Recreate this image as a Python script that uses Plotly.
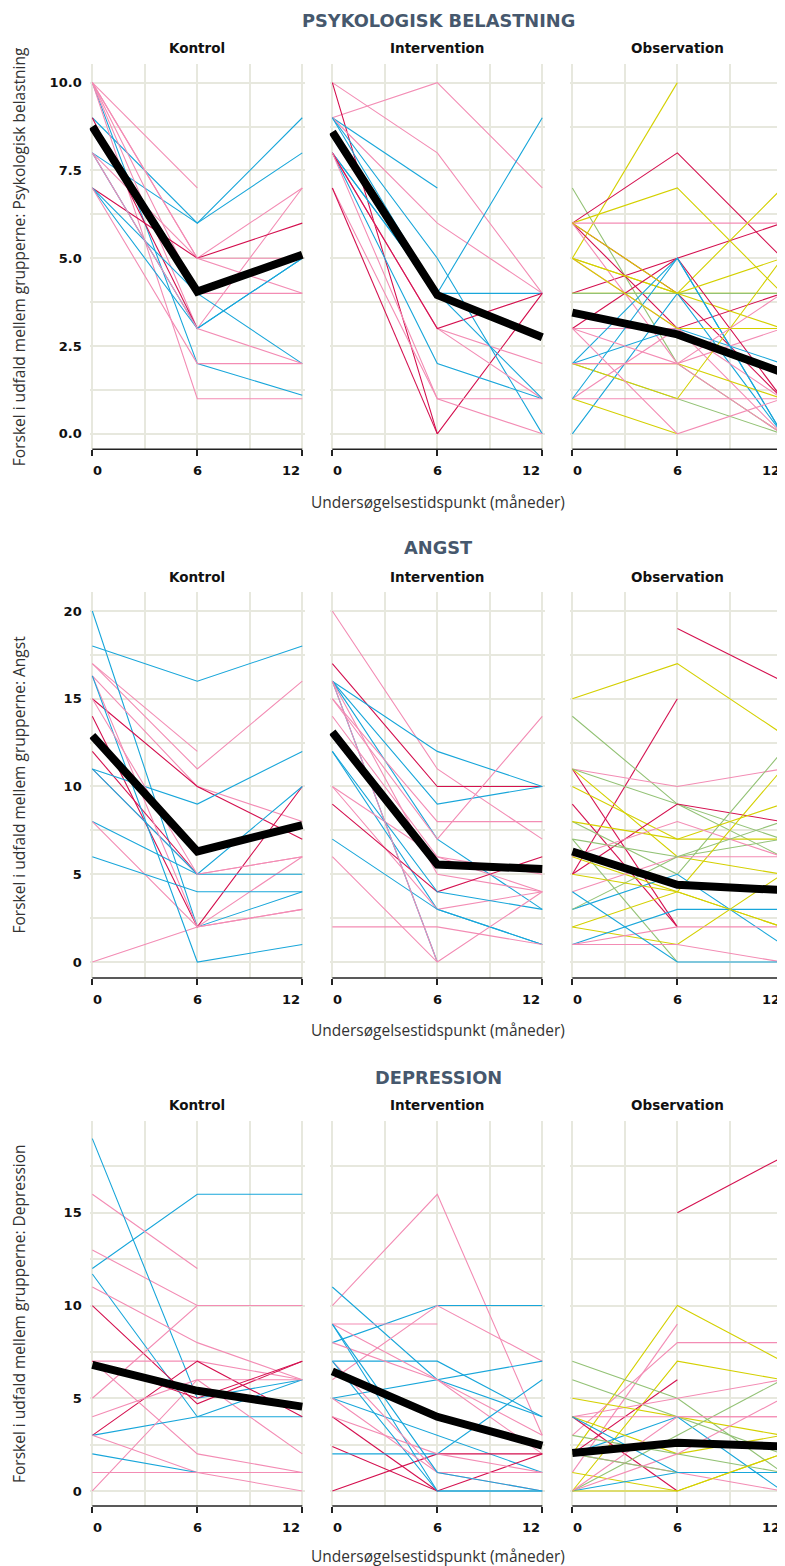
import plotly.graph_objects as go

# ---------------- data ----------------
MONTHS = [0, 6, 12]
X_TICKS = [0, 6, 12]
X_TICK_TEXT = ["0", "6", "12"]
GROUPS = ["Kontrol", "Intervention", "Observation"]
OUTCOMES = ["PSYKOLOGISK BELASTNING", "ANGST", "DEPRESSION"]
Y_TITLES = [
    "Forskel i udfald mellem grupperne: Psykologisk belastning",
    "Forskel i udfald mellem grupperne: Angst",
    "Forskel i udfald mellem grupperne: Depression",
]
X_TITLE = "Undersøgelsestidspunkt (måneder)"

PSY_Y_TICKS = [0, 2.5, 5, 7.5, 10]
PSY_Y_TEXT = ["0.0", "2.5", "5.0", "7.5", "10.0"]
ANG_Y_TICKS = [0, 5, 10, 15, 20]
ANG_Y_TEXT = ["0", "5", "10", "15", "20"]
DEP_Y_TICKS = [0, 5, 10, 15]
DEP_Y_TEXT = ["0", "5", "10", "15"]

# individual trajectories: (month 0, month 6, month 12, subgroup)
PSY_KONTROL = [
    (10, 7, None, "B"), (9, 6, 9, "A"), (8, 6, 8, "A"), (10, 2, 1.1, "A"),
    (10, 5, 4, "B"), (10, 4, 4, "B"), (10, 3, 7, "B"), (10, 1, 1, "B"),
    (8, 5, 7, "B"), (9, 3, None, "C"), (7, 5, 6, "C"), (8, 3, 5, "A"),
    (7, 3, 5, "A"), (7, 4, 2, "A"), (8, 3, 2, "B"), (7, 2, 2, "B"),
    (10, 5, 5, "B"),
]
PSY_INTERVENTION = [
    (9, 10, 7, "B"), (10, 8, 4, "B"), (10, 0, 4, "C"), (9, 7, None, "A"),
    (9, 5, 0, "A"), (9, 6, 4, "B"), (8, 4, 9, "A"), (8, 4, 4, "A"),
    (8, 2, 1, "A"), (8, 3, 2, "B"), (8, 3, 1, "B"), (8, 3, 4, "C"),
    (7, 1, 0, "B"), (8, 1, 1, "B"), (7, 0, None, "C"), (9, 4, 1, "A"),
]
PSY_OBSERVATION = [
    (7, 2, 0, "E"), (5, 10, None, "D"), (6, 8, 5, "C"), (6, 7, 4, "D"),
    (6, 6, 6, "B"), (4, 5, 6, "C"), (6, 3, 4, "C"), (6, 4, 1, "C"),
    (6, 2, 3, "B"), (5, 4, 3, "D"), (5, 3, 0, "B"), (4, 4, 4, "D"),
    (4, 4, 4, "E"), (5, 4, 7, "D"), (3, 3, 3, "B"), (3, 5, 1, "C"),
    (2, 5, 0, "A"), (0, 4, 0, "A"), (2, 3, 2, "A"), (2, 2, 1, "D"),
    (2, 1, 0, "E"), (1, 1, 1, "B"), (1, 3, 1, "B"), (1, 0, None, "D"),
    (2, 1, 5, "D"), (1, 5, 0, "A"), (3, 0, 1, "B"), (2, 2, 0, "B"),
    (5, 3, 3, "D"), (3, 2, 4, "B"), (6, 4, 5, "D"),
]
ANG_KONTROL = [
    (18, 16, 18, "A"), (17, 12, None, "B"), (17, 11, 16, "B"), (20, 2, 4, "A"),
    (16.3, 10, 8, "B"), (15, 10, 7, "C"), (14, 2, 10, "C"), (12, 5, None, "C"),
    (11, 5, 6, "B"), (11, 9, 12, "A"), (11, 5, 10, "A"), (16.3, 2, 6, "B"),
    (8, 5, 5, "A"), (8, 2, 3, "B"), (6, 4, 4, "A"), (0, 2, 3, "B"),
    (16.3, 0, 1, "A"), (15, 5, 6, "B"),
]
ANG_INTERVENTION = [
    (20, 11, 7, "B"), (17, 10, 10, "C"), (16, 12, 10, "A"), (16, 9, 10, "A"),
    (16, 7, 3, "A"), (16, 0, None, "A"), (15, 8, 8, "B"), (15, 7, 14, "B"),
    (14, 6, 4, "B"), (16, 5, 4, "B"), (12, 3, 1, "A"), (10, 6, 5, "B"),
    (10, 3, 4, "B"), (9, 4, 6, "C"), (7, 3, 1, "A"), (12, 4, 3, "A"),
    (6, 0, 4, "B"), (2, 2, 1, "B"), (16, 0, None, "B"),
]
ANG_OBSERVATION = [
    (None, 19, 16, "C"), (15, 17, 13, "D"), (5, 15, None, "C"), (14, 9, 6, "E"),
    (11, 10, 11, "B"), (11, 2, None, "C"), (11, 6, 5, "D"), (11, 9, 7, "E"),
    (10, 7, 7, "D"), (9, 2, None, "C"), (5, 9, 8, "C"), (8, 5, 12, "E"),
    (8, 7, 9, "D"), (7, 6, 7, "E"), (7, 0, None, "E"), (6, 8, 6, "B"),
    (6, 4, 11, "D"), (4, 6, 6, "B"), (3, 5, 1, "A"), (2, 1, 5, "D"),
    (2, 4, 2, "D"), (1, 3, 3, "A"), (1, 2, 2, "B"), (1, 1, 0, "B"),
    (3, 6, 8, "E"), (4, 0, 0, "A"), (5, 4, 2, "D"),
]
DEP_KONTROL = [
    (12, 16, 16, "A"), (16, 12, None, "B"), (13, 10, 10, "B"), (19, 5, 6, "A"),
    (11.7, 4, 4, "A"), (11, 8, 6, "B"), (10, 4.7, 7, "C"), (7, 7, 6, "B"),
    (3, 7, 4, "C"), (5, 10, 10, "B"), (4, 6, 2, "B"), (7, 2, 1, "B"),
    (3, 4, 6, "A"), (0, 6, 6, "B"), (3, 1, 0, "B"), (2, 1, 1, "A"),
    (1, 1, 1, "B"), (7, 5, 7, "C"),
]
DEP_INTERVENTION = [
    (10, 16, 3, "B"), (11, 6, 4, "A"), (8, 10, 10, "A"), (9, 9, None, "B"),
    (6, 10, 7, "B"), (9, 0, 0, "A"), (7, 7, 4, "A"), (5, 6, 7, "A"),
    (8, 6, 3, "B"), (9, 6, 2, "B"), (5, 3, 1, "A"), (4, 0, None, "C"),
    (2.4, 0, 2, "C"), (0, 2, 2, "C"), (2, 2, 6, "A"), (4, 2, 1, "B"),
    (7, 1, 0, "B"), (7, 0, 0, "A"), (5, 1, 1, "B"), (9, 1, 0, "A"),
]
DEP_OBSERVATION = [
    (None, 15, 18, "C"), (2, 10, 7, "D"), (1, 9, None, "B"), (3, 8, 8, "B"),
    (0, 7, 6, "D"), (2, 6, None, "C"), (7, 5, 1, "E"), (6, 4, 2, "E"),
    (4, 5, 6, "B"), (5, 4, 3, "D"), (4, 4, 4, "B"), (2, 4, 0, "A"),
    (4, 0, None, "C"), (1, 0, 2, "D"), (0, 3, 6, "E"), (4, 2, 3, "D"),
    (3, 2, 1, "E"), (0, 2, 5, "B"), (2, 1, 0, "B"), (0, 1, 1, "A"),
    (0, 4, 4, "B"), (2, 1, 1, "E"), (4, 1, 1, "A"), (0, 0, 2, "D"),
]

# group averages
PSY_MEANS = [[8.75, 4.05, 5.1], [8.6, 3.95, 2.75], [3.45, 2.83, 1.75]]
ANG_MEANS = [[12.9, 6.3, 7.8], [13.1, 5.55, 5.3], [6.3, 4.4, 4.1]]
DEP_MEANS = [[6.8, 5.4, 4.55], [6.45, 4.0, 2.45], [2.05, 2.6, 2.4]]

PANELS = [
    [PSY_KONTROL, PSY_INTERVENTION, PSY_OBSERVATION],
    [ANG_KONTROL, ANG_INTERVENTION, ANG_OBSERVATION],
    [DEP_KONTROL, DEP_INTERVENTION, DEP_OBSERVATION],
]
MEANS = [PSY_MEANS, ANG_MEANS, DEP_MEANS]
Y_TICKS = [(PSY_Y_TICKS, PSY_Y_TEXT), (ANG_Y_TICKS, ANG_Y_TEXT), (DEP_Y_TICKS, DEP_Y_TEXT)]

# ---------------- style ----------------
PAGE_W, PAGE_H = 785, 1566
BODY = 8  # default page margin around the plot div
W, H = PAGE_W - BODY, PAGE_H - BODY
COLORS = {"A": "#18a6da", "B": "#f38cb4", "C": "#d4104f", "D": "#d4d000", "E": "#93c275"}
GRID = "#e7e8de"
X_DOM_PX = [(89.7, 304.9), (329.7, 544.9), (569.7, 785.0)]
ROW_PX = [(64, 449.3), (592, 978), (1121, 1506)]
Y_RANGES = [(-0.44, 10.53), (-0.91, 21.08), (-0.81, 19.95)]
MINOR = [1.25, 2.5, 2.5]
ROW_TITLE_Y = [20, 548, 1077]
SUB_TITLE_Y = [48, 577, 1105]
X_TITLE_Y = [502, 1030, 1556]
HEAVY = dict(family="DejaVu Sans", weight="bold", color="#111111")
LIGHT = dict(family="Open Sans", color="#333333")


def px_x(p):
    return (p - BODY) / W


def px_y(p):
    return 1 - (p - BODY) / H


fig = go.Figure()
layout = dict(
    width=W, height=H, margin=dict(l=0, r=0, t=0, b=0),
    paper_bgcolor="white", plot_bgcolor="white", showlegend=False,
)
annotations = []
shapes = []

for r in range(3):
    for c in range(3):
        i = r * 3 + c + 1
        sx = "" if i == 1 else str(i)
        xa, ya = "x" + sx, "y" + sx
        for row in PANELS[r][c]:
            fig.add_trace(go.Scatter(
                x=MONTHS, y=list(row[:3]), mode="lines", xaxis=xa, yaxis=ya,
                line=dict(color=COLORS[row[3]], width=1.1), hoverinfo="skip",
                connectgaps=False,
            ))
        fig.add_trace(go.Scatter(
            x=MONTHS, y=MEANS[r][c], mode="lines", xaxis=xa, yaxis=ya,
            line=dict(color="black", width=8), hoverinfo="skip",
        ))
        xd = X_DOM_PX[c]
        yd = ROW_PX[r]
        layout["xaxis" + sx] = dict(
            domain=[max(0.0, px_x(xd[0])), min(1.0, px_x(xd[1]))], range=[-0.15, 12.15],
            anchor=ya, tickvals=X_TICKS, showticklabels=False, ticks="outside",
            ticklen=6, tickwidth=1.5, tickcolor="#222", showgrid=True,
            gridcolor=GRID, gridwidth=2, zeroline=False, showline=False,
            minor=dict(dtick=3, tick0=0, showgrid=True, gridcolor=GRID, gridwidth=2, ticks=""),
            fixedrange=True,
        )
        tv, tt = Y_TICKS[r]
        layout["yaxis" + sx] = dict(
            domain=[px_y(yd[1]), px_y(yd[0])], range=list(Y_RANGES[r]), anchor=xa,
            tickvals=tv, ticktext=tt, showticklabels=(c == 0), ticks="",
            ticklabelstandoff=7,
            tickfont=dict(size=13, **HEAVY), showgrid=True, gridcolor=GRID,
            gridwidth=2, zeroline=False, showline=False,
            minor=dict(dtick=MINOR[r], tick0=0, showgrid=True, gridcolor=GRID, gridwidth=2, ticks=""),
            fixedrange=True,
        )
        shapes.append(dict(
            type="line", xref=xa, yref=ya + " domain", x0=X_TICKS[0], x1=X_TICKS[-1],
            y0=0, y1=0, line=dict(color="#222", width=1.5), layer="above",
        ))
        anchors = ["left", "center", "right"]
        for k, (v, t) in enumerate(zip(X_TICKS, X_TICK_TEXT)):
            annotations.append(dict(
                x=v, y=0, xref=xa, yref=ya + " domain", text=t, showarrow=False,
                xanchor=anchors[k], yanchor="top", yshift=-12, xshift=[-1, 0, 0][k],
                font=dict(size=13, **HEAVY),
            ))
        annotations.append(dict(
            x=px_x((xd[0] + xd[1]) / 2), y=px_y(SUB_TITLE_Y[r]), xref="paper", yref="paper",
            text=GROUPS[c], showarrow=False, xanchor="center", yanchor="middle",
            font=dict(size=13.5, **HEAVY),
        ))
    annotations.append(dict(
        x=px_x(438), y=px_y(ROW_TITLE_Y[r]), xref="paper", yref="paper",
        text=OUTCOMES[r], showarrow=False, xanchor="center", yanchor="middle",
        font=dict(size=17.8, family="DejaVu Sans", weight="bold", color="#46586d"),
    ))
    annotations.append(dict(
        x=px_x(438), y=px_y(X_TITLE_Y[r]), xref="paper", yref="paper",
        text=X_TITLE, showarrow=False, xanchor="center", yanchor="middle",
        font=dict(size=15.5, **LIGHT),
    ))
    annotations.append(dict(
        x=px_x(18.5), y=px_y((ROW_PX[r][0] + ROW_PX[r][1]) / 2), xref="paper", yref="paper",
        text=Y_TITLES[r], showarrow=False, xanchor="center", yanchor="middle",
        textangle=-90, font=dict(size=15.5, **LIGHT),
    ))

layout["annotations"] = annotations
layout["shapes"] = shapes
fig.update_layout(**layout)
fig.write_html("out.html")
